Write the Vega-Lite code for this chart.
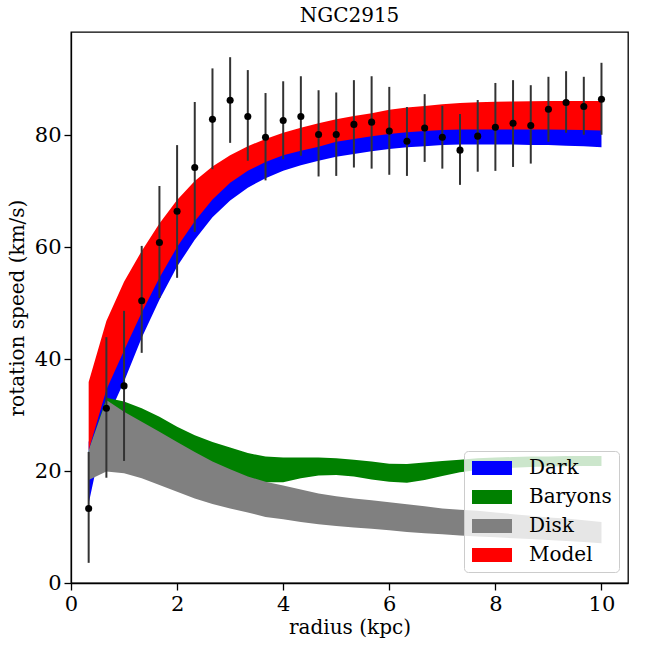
{
  "$schema": "https://vega.github.io/schema/vega-lite/v6.json",
  "width": 557,
  "height": 551,
  "autosize": {"type": "none"},
  "padding": {"left": 71, "top": 32, "right": 20, "bottom": 65},
  "title": {"text": "NGC2915", "font": "DejaVu Serif", "fontSize": 20, "fontWeight": "normal", "color": "black", "offset": 6},
  "config": {
    "font": "DejaVu Serif",
    "view": {"stroke": "black", "strokeWidth": 1.3},
    "axis": {
      "grid": false,
      "domainColor": "black",
      "domainWidth": 1.3,
      "tickColor": "black",
      "tickWidth": 1.3,
      "tickSize": 7,
      "labelColor": "black",
      "labelFont": "DejaVu Serif",
      "labelFontSize": 21,
      "labelFlush": false,
      "labelPadding": 3,
      "titleColor": "black",
      "titleFont": "DejaVu Serif",
      "titleFontSize": 20,
      "titleFontWeight": "normal"
    }
  },
  "datasets": {
    "bands": [
      {"r": 0.333, "comp": "Dark", "lo": 14.2, "hi": 25.2},
      {"r": 0.667, "comp": "Dark", "lo": 29.0, "hi": 36.0},
      {"r": 1.0, "comp": "Dark", "lo": 36.0, "hi": 43.0},
      {"r": 1.333, "comp": "Dark", "lo": 43.8, "hi": 49.8},
      {"r": 1.667, "comp": "Dark", "lo": 50.6, "hi": 56.0},
      {"r": 2.0, "comp": "Dark", "lo": 56.5, "hi": 61.5},
      {"r": 2.333, "comp": "Dark", "lo": 61.3, "hi": 66.1},
      {"r": 2.667, "comp": "Dark", "lo": 65.3, "hi": 70.0},
      {"r": 3.0, "comp": "Dark", "lo": 68.3, "hi": 73.0},
      {"r": 3.333, "comp": "Dark", "lo": 70.6, "hi": 75.1},
      {"r": 3.667, "comp": "Dark", "lo": 72.3, "hi": 76.7},
      {"r": 4.0, "comp": "Dark", "lo": 73.6, "hi": 77.9},
      {"r": 4.333, "comp": "Dark", "lo": 74.6, "hi": 78.7},
      {"r": 4.667, "comp": "Dark", "lo": 75.4, "hi": 79.4},
      {"r": 5.0, "comp": "Dark", "lo": 76.1, "hi": 80.3},
      {"r": 5.333, "comp": "Dark", "lo": 76.6, "hi": 80.8},
      {"r": 5.667, "comp": "Dark", "lo": 77.1, "hi": 81.3},
      {"r": 6.0, "comp": "Dark", "lo": 77.5, "hi": 81.7},
      {"r": 6.333, "comp": "Dark", "lo": 77.8, "hi": 82.0},
      {"r": 6.667, "comp": "Dark", "lo": 78.0, "hi": 82.2},
      {"r": 7.0, "comp": "Dark", "lo": 78.2, "hi": 82.4},
      {"r": 7.333, "comp": "Dark", "lo": 78.3, "hi": 82.5},
      {"r": 7.667, "comp": "Dark", "lo": 78.3, "hi": 82.5},
      {"r": 8.0, "comp": "Dark", "lo": 78.3, "hi": 82.5},
      {"r": 8.333, "comp": "Dark", "lo": 78.3, "hi": 82.5},
      {"r": 8.667, "comp": "Dark", "lo": 78.2, "hi": 82.5},
      {"r": 9.0, "comp": "Dark", "lo": 78.2, "hi": 82.5},
      {"r": 9.333, "comp": "Dark", "lo": 78.1, "hi": 82.4},
      {"r": 9.667, "comp": "Dark", "lo": 78.0, "hi": 82.4},
      {"r": 10.0, "comp": "Dark", "lo": 77.8, "hi": 82.3},

      {"r": 0.333, "comp": "Baryons", "lo": 19.0, "hi": 23.5},
      {"r": 0.667, "comp": "Baryons", "lo": 26.0, "hi": 33.1},
      {"r": 1.0, "comp": "Baryons", "lo": 25.5, "hi": 32.4},
      {"r": 1.333, "comp": "Baryons", "lo": 24.5, "hi": 31.2},
      {"r": 1.667, "comp": "Baryons", "lo": 23.2, "hi": 29.7},
      {"r": 2.0, "comp": "Baryons", "lo": 22.0, "hi": 27.9},
      {"r": 2.333, "comp": "Baryons", "lo": 20.8, "hi": 26.4},
      {"r": 2.667, "comp": "Baryons", "lo": 19.8, "hi": 25.2},
      {"r": 3.0, "comp": "Baryons", "lo": 19.0, "hi": 24.2},
      {"r": 3.333, "comp": "Baryons", "lo": 18.5, "hi": 23.2},
      {"r": 3.667, "comp": "Baryons", "lo": 18.0, "hi": 22.6},
      {"r": 4.0, "comp": "Baryons", "lo": 18.0, "hi": 22.4},
      {"r": 4.333, "comp": "Baryons", "lo": 18.7, "hi": 22.4},
      {"r": 4.667, "comp": "Baryons", "lo": 19.2, "hi": 22.4},
      {"r": 5.0, "comp": "Baryons", "lo": 19.3, "hi": 22.3},
      {"r": 5.333, "comp": "Baryons", "lo": 19.0, "hi": 22.0},
      {"r": 5.667, "comp": "Baryons", "lo": 18.5, "hi": 21.7},
      {"r": 6.0, "comp": "Baryons", "lo": 18.1, "hi": 21.3},
      {"r": 6.333, "comp": "Baryons", "lo": 17.9, "hi": 21.25},
      {"r": 6.667, "comp": "Baryons", "lo": 18.4, "hi": 21.5},
      {"r": 7.0, "comp": "Baryons", "lo": 19.1, "hi": 21.8},
      {"r": 7.333, "comp": "Baryons", "lo": 19.8, "hi": 22.0},
      {"r": 7.667, "comp": "Baryons", "lo": 20.2, "hi": 22.3},
      {"r": 8.0, "comp": "Baryons", "lo": 20.5, "hi": 22.4},
      {"r": 8.333, "comp": "Baryons", "lo": 20.6, "hi": 22.5},
      {"r": 8.667, "comp": "Baryons", "lo": 20.7, "hi": 22.6},
      {"r": 9.0, "comp": "Baryons", "lo": 20.8, "hi": 22.6},
      {"r": 9.333, "comp": "Baryons", "lo": 20.85, "hi": 22.7},
      {"r": 9.667, "comp": "Baryons", "lo": 20.9, "hi": 22.7},
      {"r": 10.0, "comp": "Baryons", "lo": 20.9, "hi": 22.7},

      {"r": 0.333, "comp": "Disk", "lo": 18.4, "hi": 23.75},
      {"r": 0.667, "comp": "Disk", "lo": 19.9, "hi": 32.7},
      {"r": 1.0, "comp": "Disk", "lo": 19.6, "hi": 30.6},
      {"r": 1.333, "comp": "Disk", "lo": 18.7, "hi": 28.8},
      {"r": 1.667, "comp": "Disk", "lo": 17.5, "hi": 27.0},
      {"r": 2.0, "comp": "Disk", "lo": 16.3, "hi": 25.2},
      {"r": 2.333, "comp": "Disk", "lo": 15.1, "hi": 23.4},
      {"r": 2.667, "comp": "Disk", "lo": 14.1, "hi": 21.7},
      {"r": 3.0, "comp": "Disk", "lo": 13.3, "hi": 20.3},
      {"r": 3.333, "comp": "Disk", "lo": 12.6, "hi": 19.0},
      {"r": 3.667, "comp": "Disk", "lo": 11.8, "hi": 18.1},
      {"r": 4.0, "comp": "Disk", "lo": 11.4, "hi": 17.4},
      {"r": 4.333, "comp": "Disk", "lo": 10.9, "hi": 16.7},
      {"r": 4.667, "comp": "Disk", "lo": 10.5, "hi": 16.0},
      {"r": 5.0, "comp": "Disk", "lo": 10.2, "hi": 15.5},
      {"r": 5.333, "comp": "Disk", "lo": 9.9, "hi": 15.1},
      {"r": 5.667, "comp": "Disk", "lo": 9.7, "hi": 14.8},
      {"r": 6.0, "comp": "Disk", "lo": 9.4, "hi": 14.4},
      {"r": 6.333, "comp": "Disk", "lo": 9.1, "hi": 14.05},
      {"r": 6.667, "comp": "Disk", "lo": 8.9, "hi": 13.7},
      {"r": 7.0, "comp": "Disk", "lo": 8.7, "hi": 13.3},
      {"r": 7.333, "comp": "Disk", "lo": 8.5, "hi": 13.1},
      {"r": 7.667, "comp": "Disk", "lo": 8.3, "hi": 12.9},
      {"r": 8.0, "comp": "Disk", "lo": 8.15, "hi": 12.6},
      {"r": 8.333, "comp": "Disk", "lo": 8.0, "hi": 12.3},
      {"r": 8.667, "comp": "Disk", "lo": 7.85, "hi": 12.0},
      {"r": 9.0, "comp": "Disk", "lo": 7.7, "hi": 11.7},
      {"r": 9.333, "comp": "Disk", "lo": 7.5, "hi": 11.5},
      {"r": 9.667, "comp": "Disk", "lo": 7.3, "hi": 11.2},
      {"r": 10.0, "comp": "Disk", "lo": 7.1, "hi": 10.9},

      {"r": 0.333, "comp": "Model", "lo": 23.7, "hi": 35.9},
      {"r": 0.667, "comp": "Model", "lo": 34.5, "hi": 46.8},
      {"r": 1.0, "comp": "Model", "lo": 41.5, "hi": 53.8},
      {"r": 1.333, "comp": "Model", "lo": 48.3, "hi": 59.3},
      {"r": 1.667, "comp": "Model", "lo": 54.5, "hi": 64.2},
      {"r": 2.0, "comp": "Model", "lo": 60.0, "hi": 68.4},
      {"r": 2.333, "comp": "Model", "lo": 64.6, "hi": 71.8},
      {"r": 2.667, "comp": "Model", "lo": 68.5, "hi": 74.4},
      {"r": 3.0, "comp": "Model", "lo": 71.5, "hi": 76.4},
      {"r": 3.333, "comp": "Model", "lo": 73.6, "hi": 78.0},
      {"r": 3.667, "comp": "Model", "lo": 75.2, "hi": 79.3},
      {"r": 4.0, "comp": "Model", "lo": 76.4, "hi": 80.4},
      {"r": 4.333, "comp": "Model", "lo": 77.2, "hi": 81.3},
      {"r": 4.667, "comp": "Model", "lo": 77.9, "hi": 82.1},
      {"r": 5.0, "comp": "Model", "lo": 78.8, "hi": 82.8},
      {"r": 5.333, "comp": "Model", "lo": 79.3, "hi": 83.4},
      {"r": 5.667, "comp": "Model", "lo": 79.8, "hi": 83.9},
      {"r": 6.0, "comp": "Model", "lo": 80.2, "hi": 84.5},
      {"r": 6.333, "comp": "Model", "lo": 80.5, "hi": 84.9},
      {"r": 6.667, "comp": "Model", "lo": 80.7, "hi": 85.2},
      {"r": 7.0, "comp": "Model", "lo": 80.9, "hi": 85.5},
      {"r": 7.333, "comp": "Model", "lo": 81.0, "hi": 85.7},
      {"r": 7.667, "comp": "Model", "lo": 81.0, "hi": 85.85},
      {"r": 8.0, "comp": "Model", "lo": 81.0, "hi": 85.95},
      {"r": 8.333, "comp": "Model", "lo": 81.0, "hi": 86.0},
      {"r": 8.667, "comp": "Model", "lo": 81.0, "hi": 86.05},
      {"r": 9.0, "comp": "Model", "lo": 81.0, "hi": 86.1},
      {"r": 9.333, "comp": "Model", "lo": 80.95, "hi": 86.1},
      {"r": 9.667, "comp": "Model", "lo": 80.9, "hi": 86.1},
      {"r": 10.0, "comp": "Model", "lo": 80.8, "hi": 86.1}
    ],
    "obs": [
      {"r": 0.333, "v": 13.3, "lo": 3.6, "hi": 23.4},
      {"r": 0.667, "v": 31.2, "lo": 18.8, "hi": 43.9},
      {"r": 1.0, "v": 35.2, "lo": 21.8, "hi": 48.6},
      {"r": 1.333, "v": 50.4, "lo": 41.1, "hi": 60.2},
      {"r": 1.667, "v": 60.8, "lo": 50.9, "hi": 70.9},
      {"r": 2.0, "v": 66.4, "lo": 54.5, "hi": 78.2},
      {"r": 2.333, "v": 74.2, "lo": 62.7, "hi": 85.9},
      {"r": 2.667, "v": 82.8, "lo": 73.9, "hi": 91.9},
      {"r": 3.0, "v": 86.2, "lo": 78.6, "hi": 93.9},
      {"r": 3.333, "v": 83.3, "lo": 75.4, "hi": 91.6},
      {"r": 3.667, "v": 79.6, "lo": 71.9, "hi": 87.5},
      {"r": 4.0, "v": 82.6, "lo": 75.7, "hi": 89.6},
      {"r": 4.333, "v": 83.3, "lo": 76.3, "hi": 90.5},
      {"r": 4.667, "v": 80.1, "lo": 72.6, "hi": 88.0},
      {"r": 5.0, "v": 80.1, "lo": 72.7, "hi": 87.6},
      {"r": 5.333, "v": 81.9, "lo": 74.2, "hi": 89.8},
      {"r": 5.667, "v": 82.3, "lo": 74.0, "hi": 90.5},
      {"r": 6.0, "v": 80.7, "lo": 72.9, "hi": 88.6},
      {"r": 6.333, "v": 78.9, "lo": 72.7, "hi": 85.0},
      {"r": 6.667, "v": 81.25, "lo": 75.2, "hi": 87.3},
      {"r": 7.0, "v": 79.6, "lo": 74.0, "hi": 85.2},
      {"r": 7.333, "v": 77.3, "lo": 71.1, "hi": 83.75},
      {"r": 7.667, "v": 79.8, "lo": 73.45, "hi": 86.25},
      {"r": 8.0, "v": 81.4, "lo": 73.6, "hi": 89.3},
      {"r": 8.333, "v": 82.1, "lo": 74.3, "hi": 89.8},
      {"r": 8.667, "v": 81.7, "lo": 74.9, "hi": 88.9},
      {"r": 9.0, "v": 84.6, "lo": 78.8, "hi": 90.4},
      {"r": 9.333, "v": 85.8, "lo": 80.4, "hi": 91.4},
      {"r": 9.667, "v": 85.1, "lo": 80.05, "hi": 90.4},
      {"r": 10.0, "v": 86.4, "lo": 80.05, "hi": 92.9}
    ]
  },
  "encoding": {
    "x": {
      "field": "r",
      "type": "quantitative",
      "scale": {"domain": [0, 10.5], "nice": false, "zero": false},
      "axis": {"values": [0, 2, 4, 6, 8, 10], "format": "d", "title": "radius (kpc)", "titlePadding": 3}
    }
  },
  "layer": [
    {
      "data": {"name": "bands"},
      "transform": [{"filter": "datum.comp === 'Dark'"}],
      "mark": {"type": "area", "opacity": 1},
      "encoding": {
        "y": {
          "field": "lo",
          "type": "quantitative",
          "scale": {"domain": [0, 98.4], "nice": false, "zero": false},
          "axis": {"values": [0, 20, 40, 60, 80], "format": "d", "title": "rotation speed (km/s)", "titlePadding": 7}
        },
        "y2": {"field": "hi"},
        "color": {
          "field": "comp",
          "type": "nominal",
          "scale": {"domain": ["Dark", "Baryons", "Disk", "Model"], "range": ["#0000ff", "#008000", "#808080", "#ff0000"]},
          "legend": {
            "title": null,
            "orient": "none",
            "legendX": 393,
            "legendY": 419,
            "padding": 7,
            "fillColor": "rgba(255,255,255,0.8)",
            "strokeColor": "#cccccc",
            "cornerRadius": 4,
            "symbolType": "M-2,-0.7H2V0.7H-2Z",
            "symbolSize": 400,
            "symbolOffset": 11,
            "symbolStrokeWidth": 0,
            "symbolOpacity": 1,
            "labelFont": "DejaVu Serif",
            "labelFontSize": 20,
            "labelColor": "black",
            "labelOffset": 27,
            "rowPadding": 9
          }
        }
      }
    },
    {
      "data": {"name": "bands"},
      "transform": [{"filter": "datum.comp === 'Baryons'"}],
      "mark": {"type": "area", "opacity": 1},
      "encoding": {
        "y": {"field": "lo", "type": "quantitative"},
        "y2": {"field": "hi"},
        "color": {"field": "comp", "type": "nominal"}
      }
    },
    {
      "data": {"name": "bands"},
      "transform": [{"filter": "datum.comp === 'Disk'"}],
      "mark": {"type": "area", "opacity": 1},
      "encoding": {
        "y": {"field": "lo", "type": "quantitative"},
        "y2": {"field": "hi"},
        "color": {"field": "comp", "type": "nominal"}
      }
    },
    {
      "data": {"name": "bands"},
      "transform": [{"filter": "datum.comp === 'Model'"}],
      "mark": {"type": "area", "opacity": 1},
      "encoding": {
        "y": {"field": "lo", "type": "quantitative"},
        "y2": {"field": "hi"},
        "color": {"field": "comp", "type": "nominal"}
      }
    },
    {
      "data": {"name": "obs"},
      "mark": {"type": "rule", "color": "#333333", "strokeWidth": 2},
      "encoding": {
        "y": {"field": "lo", "type": "quantitative"},
        "y2": {"field": "hi"}
      }
    },
    {
      "data": {"name": "obs"},
      "mark": {"type": "circle", "color": "black", "opacity": 1, "size": 50},
      "encoding": {
        "y": {"field": "v", "type": "quantitative"}
      }
    }
  ]
}
